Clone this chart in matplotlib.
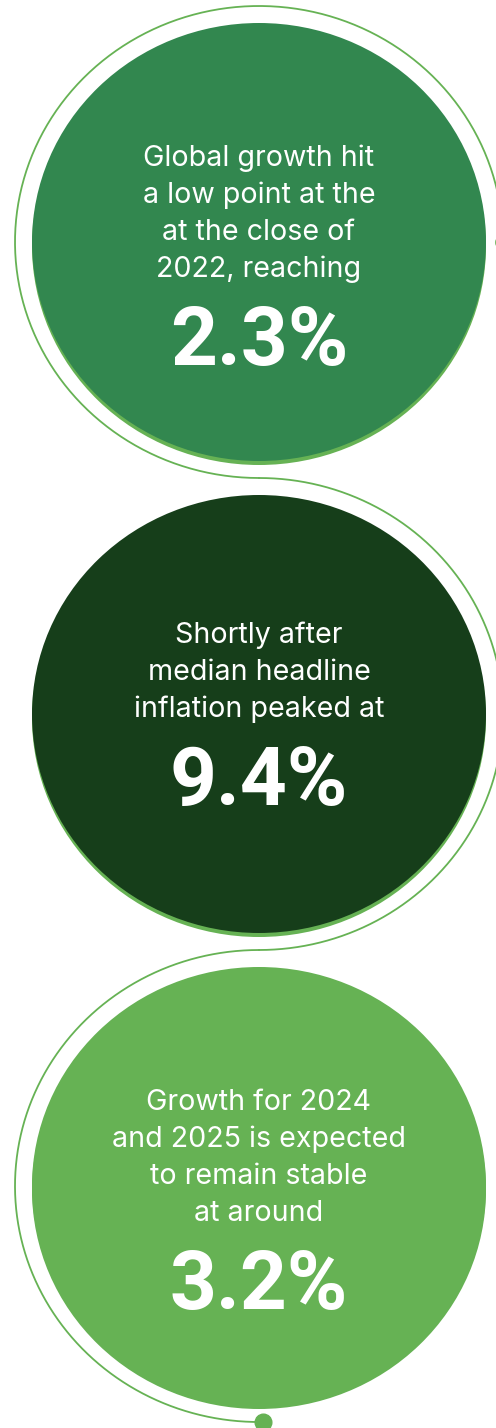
import numpy as np
import matplotlib
matplotlib.use("Agg")
import matplotlib.pyplot as plt
from matplotlib.patches import Ellipse

# data
captions = [
    "Global growth hit\na low point at the\nat the close of\n2022, reaching",
    "Shortly after\nmedian headline\ninflation peaked at",
    "Growth for 2024\nand 2025 is expected\nto remain stable\nat around",
]
values = [2.3, 9.4, 3.2]
fills = ["#32874f", "#163e1a", "#66b254"]

line_col = "#66b254"
W, H = 496, 1428

fig = plt.figure(figsize=(W / 100, H / 100), dpi=100)
ax = fig.add_axes([0, 0, 1, 1])
ax.set_xlim(0, W)
ax.set_ylim(H, 0)
ax.axis("off")

cx = 259
step = 472
rx_in, ry_in = 227, 219      # filled disc
rx_out, ry_out = 244, 236    # outline ring

def ring(cy, t0, t1):
    t = np.linspace(t0, t1, 400)
    ax.plot(cx + rx_out * np.cos(t), cy - ry_out * np.sin(t),
            color=line_col, lw=1.3, solid_capstyle="round", zorder=1)

for i, (cap, val, col) in enumerate(zip(captions, values, fills)):
    cy = 242 + i * step
    # light rim at the bottom of each disc
    ax.add_patch(Ellipse((cx, cy + 4), 2 * rx_in, 2 * ry_in, color=line_col, lw=0, zorder=2))
    ax.add_patch(Ellipse((cx, cy), 2 * rx_in, 2 * ry_in, color=col, lw=0, zorder=3))

    if i == 0:
        ring(cy, 0, 1.5 * np.pi)
    elif i % 2 == 1:
        ring(cy, 0.5 * np.pi, -0.5 * np.pi)
    else:
        ring(cy, 0.5 * np.pi, 1.5 * np.pi)

    lines = cap.split("\n")
    n = len(lines)
    big_base = cy + 123 if n == 4 else cy + 91
    first_base = big_base - 88 - (n - 1) * 37
    for k, ln in enumerate(lines):
        ax.text(cx, first_base + k * 37, ln, ha="center", va="baseline",
                color="white", fontsize=20.6, family="Inter", zorder=4)
    ax.text(cx, big_base, f"{val:.1f}%", ha="center", va="baseline",
            color="white", fontsize=59, fontweight="bold", family="Roboto", zorder=4)

# end dots of the ring
ax.plot([cx + rx_out], [242], "o", ms=11, color=line_col, zorder=1, clip_on=True)
ax.plot([cx + 4], [242 + 2 * step + ry_out], "o", ms=12, color=line_col, zorder=1)

fig.savefig("out.png", dpi=100, facecolor="white")
